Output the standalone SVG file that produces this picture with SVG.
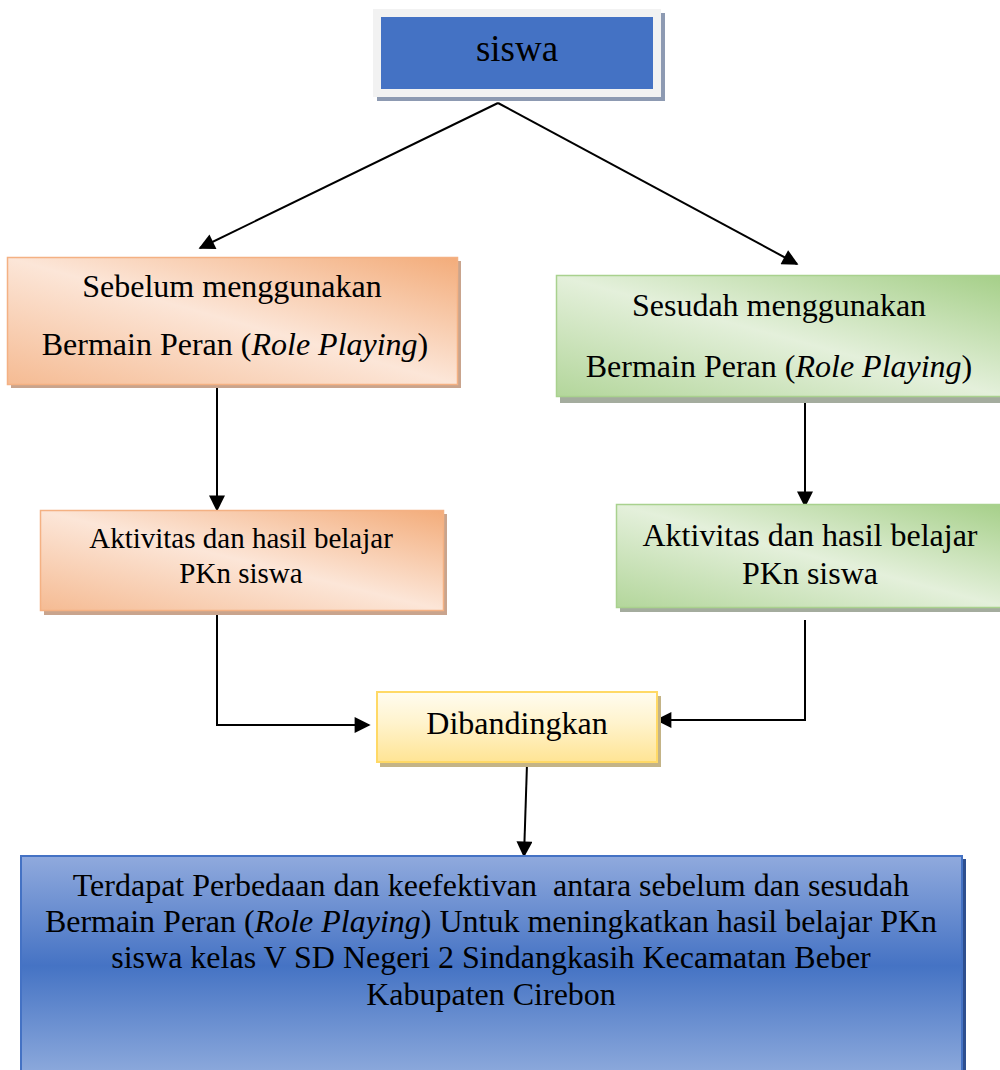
<svg xmlns="http://www.w3.org/2000/svg" width="1000" height="1070" viewBox="0 0 1000 1070">
<defs>
<linearGradient id="gOrange" x1="1" y1="0" x2="0" y2="1">
<stop offset="0" stop-color="#f3ac7a"/>
<stop offset="0.5" stop-color="#fce6d8"/>
<stop offset="1" stop-color="#f5bb93"/>
</linearGradient>
<linearGradient id="gGreen" x1="1" y1="0" x2="0" y2="1">
<stop offset="0" stop-color="#a5cf88"/>
<stop offset="0.5" stop-color="#e4f0db"/>
<stop offset="1" stop-color="#b3d69b"/>
</linearGradient>
<linearGradient id="gYellow" x1="0" y1="0" x2="0" y2="1">
<stop offset="0" stop-color="#fffcf0"/>
<stop offset="0.45" stop-color="#fff3cc"/>
<stop offset="1" stop-color="#ffe494"/>
</linearGradient>
<linearGradient id="gBlue" x1="0" y1="0" x2="0" y2="1">
<stop offset="0" stop-color="#90aadd"/>
<stop offset="0.5" stop-color="#4573c4"/>
<stop offset="1" stop-color="#8eaadc"/>
</linearGradient>
<marker id="arrL" viewBox="0 0 10 10" refX="9" refY="5" markerWidth="20" markerHeight="16" markerUnits="userSpaceOnUse" orient="auto">
<path d="M0,0 L10,5 L0,10 z" fill="#000"/>
</marker>
</defs>
<style>
text{fill:#000;text-anchor:middle;font-family:"Liberation Serif","Times New Roman",serif}
.t32{font-size:32px}
.t29{font-size:29px}
.t36{font-size:37px}
.conn{fill:none;stroke:#000;stroke-width:2}
</style>
<rect width="1000" height="1070" fill="#fff"/>

<g id="connectors">
<line class="conn" x1="498" y1="103" x2="200" y2="248" marker-end="url(#arrL)"/>
<line class="conn" x1="498" y1="103" x2="797" y2="264" marker-end="url(#arrL)"/>
<line class="conn" x1="217" y1="385" x2="217" y2="510" marker-end="url(#arrL)"/>
<line class="conn" x1="805" y1="400" x2="805" y2="506" marker-end="url(#arrL)"/>
<polyline class="conn" points="217,613 217,725 369,725" marker-end="url(#arrL)"/>
<polyline class="conn" points="805,620 805,720 657,720" marker-end="url(#arrL)"/>
<line class="conn" x1="527" y1="764" x2="524" y2="856" marker-end="url(#arrL)"/>
</g>

<g id="node-siswa">
<rect x="377" y="13" width="288" height="88" fill="#8d9ab2"/>
<rect x="373" y="9" width="288" height="88" fill="#f2f2f2"/>
<rect x="381" y="17" width="272" height="72" fill="#4472c4"/>
<text class="t36" x="517" y="61">siswa</text>
</g>

<g id="node-sebelum">
<rect x="11" y="261" width="450" height="127" fill="#c9a48d"/>
<rect x="7.5" y="257.5" width="450" height="127" fill="url(#gOrange)" stroke="#f4b183" stroke-width="1.5"/>
<text class="t32" x="232" y="297">Sebelum menggunakan</text>
<text class="t32" x="235" y="355">Bermain Peran (<tspan font-style="italic">Role Playing</tspan>)</text>
</g>

<g id="node-sesudah">
<rect x="560" y="279" width="446" height="124" fill="#a4ac9e"/>
<rect x="556.5" y="275.5" width="446" height="121" fill="url(#gGreen)" stroke="#a9d18e" stroke-width="1.5"/>
<text class="t32" x="779" y="316">Sesudah menggunakan</text>
<text class="t32" x="779" y="377">Bermain Peran (<tspan font-style="italic">Role Playing</tspan>)</text>
</g>

<g id="node-aktivitas-sebelum">
<rect x="44" y="514" width="403" height="101" fill="#c9a48d"/>
<rect x="40.5" y="510.5" width="403" height="100" fill="url(#gOrange)" stroke="#f4b183" stroke-width="1.5"/>
<text class="t29" x="241" y="548">Aktivitas dan hasil belajar</text>
<text class="t29" x="241" y="583">PKn siswa</text>
</g>

<g id="node-aktivitas-sesudah">
<rect x="620" y="508" width="390" height="104" fill="#a4ac9e"/>
<rect x="616.5" y="504.5" width="390" height="103" fill="url(#gGreen)" stroke="#a9d18e" stroke-width="1.5"/>
<text class="t32" x="810" y="546">Aktivitas dan hasil belajar</text>
<text class="t32" x="810" y="584">PKn siswa</text>
</g>

<g id="node-dibandingkan">
<rect x="380" y="696" width="281" height="71" fill="#c4b487"/>
<rect x="377" y="692" width="280" height="70" fill="url(#gYellow)" stroke="#ffd966" stroke-width="2"/>
<text class="t32" x="517" y="734">Dibandingkan</text>
</g>

<g id="node-hasil">
<rect x="24" y="859" width="942" height="220" fill="#2e4f8f"/>
<rect x="21" y="856" width="941" height="220" fill="url(#gBlue)" stroke="#4472c4" stroke-width="2"/>
<text class="t32" x="491" y="896" style="white-space:pre">Terdapat Perbedaan dan keefektivan  antara sebelum dan sesudah</text>
<text class="t32" x="491" y="932">Bermain Peran (<tspan font-style="italic">Role Playing</tspan>) Untuk meningkatkan hasil belajar PKn</text>
<text class="t32" x="491" y="968">siswa kelas V SD Negeri 2 Sindangkasih Kecamatan Beber</text>
<text class="t32" x="491" y="1005">Kabupaten Cirebon</text>
</g>
</svg>
